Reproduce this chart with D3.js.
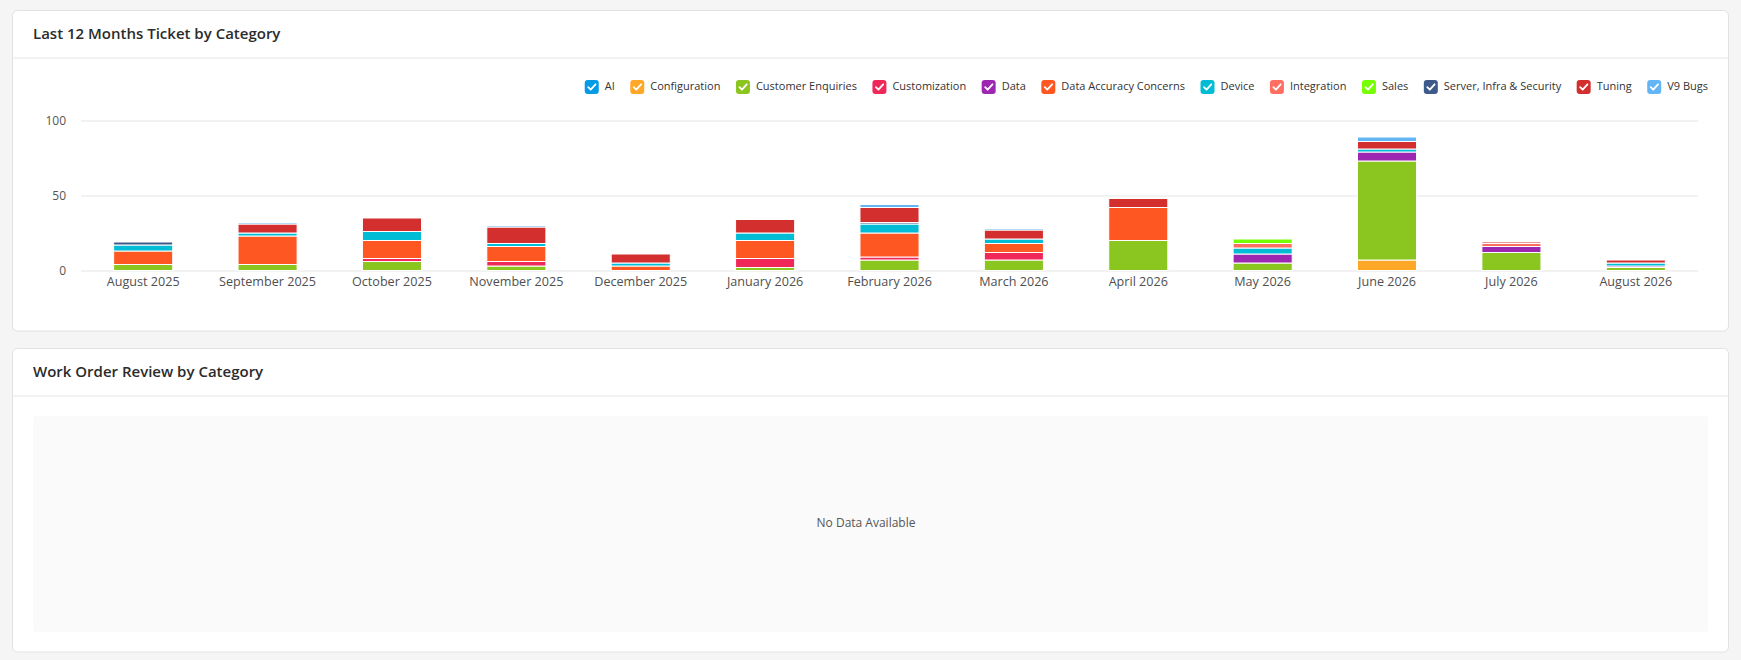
<!DOCTYPE html>
<html>
<head>
<meta charset="utf-8">
<script src="https://cdn.jsdelivr.net/npm/d3@7"></script>
<style>
  body { margin: 0; background: #f5f5f5; font-family: "Open Sans", "Noto Sans", sans-serif; }
  svg { display: block; }
</style>
</head>
<body>
<svg id="page" width="1741" height="660"></svg>
<script>
// Months on the x axis
const months = ["August 2025", "September 2025", "October 2025", "November 2025", "December 2025",
  "January 2026", "February 2026", "March 2026", "April 2026", "May 2026", "June 2026", "July 2026", "August 2026"];

// Ticket counts per category (one value per month)
const ai                  = [0, 0, 0, 0, 0, 0, 0, 0, 0, 0, 0, 0, 0];
const configuration       = [0, 0, 0, 0, 0, 0, 0, 0, 0, 0, 7, 0, 0];
const customerEnquiries   = [4, 4, 6, 3, 0, 2, 7, 7, 20, 5, 66, 12, 2];
const customization       = [0, 0, 2, 3, 0, 6, 2, 5, 0, 0, 0, 0, 0];
const dataCat             = [0, 0, 0, 0, 0, 0, 0, 0, 0, 6, 6, 4, 1];
const dataAccuracy        = [9, 19, 12, 10, 3, 12, 16, 6, 22, 0, 0, 0, 0];
const device              = [4, 2, 6, 2, 2, 5, 6, 3, 0, 4, 2, 0, 2];
const integration         = [0, 0, 0, 0, 0, 0, 0, 0, 0, 3, 0, 2, 0];
const sales               = [0, 0, 0, 0, 0, 0, 0, 0, 0, 3, 0, 0, 0];
const serverInfra         = [2, 0, 0, 0, 0, 0, 1, 0, 0, 0, 0, 0, 0];
const tuning              = [0, 6, 9, 11, 6, 9, 10, 6, 6, 0, 5, 1, 2];
const v9Bugs              = [0, 1, 0, 1, 0, 0, 2, 1, 0, 0, 3, 0, 0];

const categories = ["AI", "Configuration", "Customer Enquiries", "Customization", "Data",
  "Data Accuracy Concerns", "Device", "Integration", "Sales", "Server, Infra & Security", "Tuning", "V9 Bugs"];
const seriesValues = [ai, configuration, customerEnquiries, customization, dataCat,
  dataAccuracy, device, integration, sales, serverInfra, tuning, v9Bugs];
const colors = ["#039be5", "#ffa726", "#8bc51f", "#f0285a", "#9c27b0",
  "#ff5722", "#00bcd4", "#ff6f61", "#76ff03", "#3e5a8a", "#d32f2f", "#64b5f6"];
const yTicks = [0, 50, 100];

// build a row per month for d3.stack
const table = months.map((m, i) => {
  const row = { month: m };
  categories.forEach((c, j) => row[c] = seriesValues[j][i]);
  return row;
});

const svg = d3.select("#page");

// cards
function card(y, h, title) {
  svg.append("rect")
    .attr("x", 12.5).attr("y", y).attr("width", 1716).attr("height", h)
    .attr("rx", 5).attr("fill", "#fff").attr("stroke", "#e2e2e2");
  svg.append("line")
    .attr("x1", 13).attr("x2", 1728).attr("y1", y + 47.5).attr("y2", y + 47.5)
    .attr("stroke", "#e6e6e6");
  svg.append("text")
    .attr("x", 33).attr("y", y + 24)
    .attr("dominant-baseline", "middle")
    .attr("font-size", 15).attr("font-weight", 600).attr("fill", "#2b2b2b")
    .text(title);
}
card(10.5, 320.5, "Last 12 Months Ticket by Category");
card(348.5, 303.5, "Work Order Review by Category");

// chart scales
const x = d3.scaleBand().domain(months).range([81, 1698]).paddingInner(0.525).paddingOuter(0.2625);
const y = d3.scaleLinear().domain([0, 100]).range([270.5, 120.5]);

const chart = svg.append("g");

// gridlines
chart.append("g")
  .attr("transform", "translate(81,0)")
  .call(d3.axisLeft(y).tickValues(yTicks).tickSize(-(1698 - 81)).tickFormat(""))
  .call(g => g.select(".domain").remove())
  .call(g => g.selectAll(".tick line").attr("stroke", "#e5e5e5"));

// y labels
chart.append("g")
  .attr("transform", "translate(66,0)")
  .call(d3.axisLeft(y).tickValues(yTicks).tickSize(0).tickPadding(0))
  .call(g => g.select(".domain").remove())
  .call(g => g.selectAll("text").attr("font-size", 12).attr("fill", "#555")
    .attr("font-family", "'Open Sans', sans-serif"));

// x labels
chart.append("g")
  .attr("transform", "translate(0,277)")
  .call(d3.axisBottom(x).tickSize(0).tickPadding(0))
  .call(g => g.select(".domain").remove())
  .call(g => g.selectAll("text").attr("font-size", 12.6).attr("fill", "#4f4f4f")
    .attr("font-family", "'Open Sans', sans-serif").attr("dy", "0.71em"));

// stacked bars
const stack = d3.stack().keys(categories)(table);
chart.append("g").selectAll("g")
  .data(stack)
  .join("g")
  .attr("fill", (d, i) => colors[i])
  .selectAll("rect")
  .data(d => d.filter(s => s[1] > s[0]))
  .join("rect")
  .attr("x", d => x(d.data.month))
  .attr("width", x.bandwidth())
  .attr("y", d => y(d[1]))
  .attr("height", d => y(d[0]) - y(d[1]))
  .attr("stroke", "#fff")
  .attr("stroke-width", 1);

// legend, right aligned
const legend = svg.append("g").attr("font-size", 11).attr("fill", "#333");
const items = legend.selectAll("g").data(categories).join("g");
items.append("rect")
  .attr("width", 14).attr("height", 14).attr("y", -7).attr("rx", 3)
  .attr("fill", (d, i) => colors[i]);
items.append("path")
  .attr("d", "M3.5,7.2 L6,9.7 L10.8,4.3")
  .attr("transform", "translate(0,-7)")
  .attr("fill", "none").attr("stroke", "#fff").attr("stroke-width", 1.8)
  .attr("stroke-linecap", "round").attr("stroke-linejoin", "round");
items.append("text")
  .attr("x", 20).attr("dominant-baseline", "middle")
  .text(d => d);
const widths = [];
items.each(function () { widths.push(20 + this.querySelector("text").getComputedTextLength()); });
const gap = 15.5;
let cursor = 1708 - d3.sum(widths) - gap * (widths.length - 1);
items.attr("transform", (d, i) => {
  const tx = cursor;
  cursor += widths[i] + gap;
  return `translate(${tx},87)`;
});

// empty second chart
svg.append("rect")
  .attr("x", 33).attr("y", 416).attr("width", 1675).attr("height", 216)
  .attr("rx", 3).attr("fill", "#fafafa");
svg.append("text")
  .attr("x", 866).attr("y", 524)
  .attr("text-anchor", "middle").attr("dominant-baseline", "middle")
  .attr("font-size", 12).attr("fill", "#555")
  .text("No Data Available");
</script>
</body>
</html>
